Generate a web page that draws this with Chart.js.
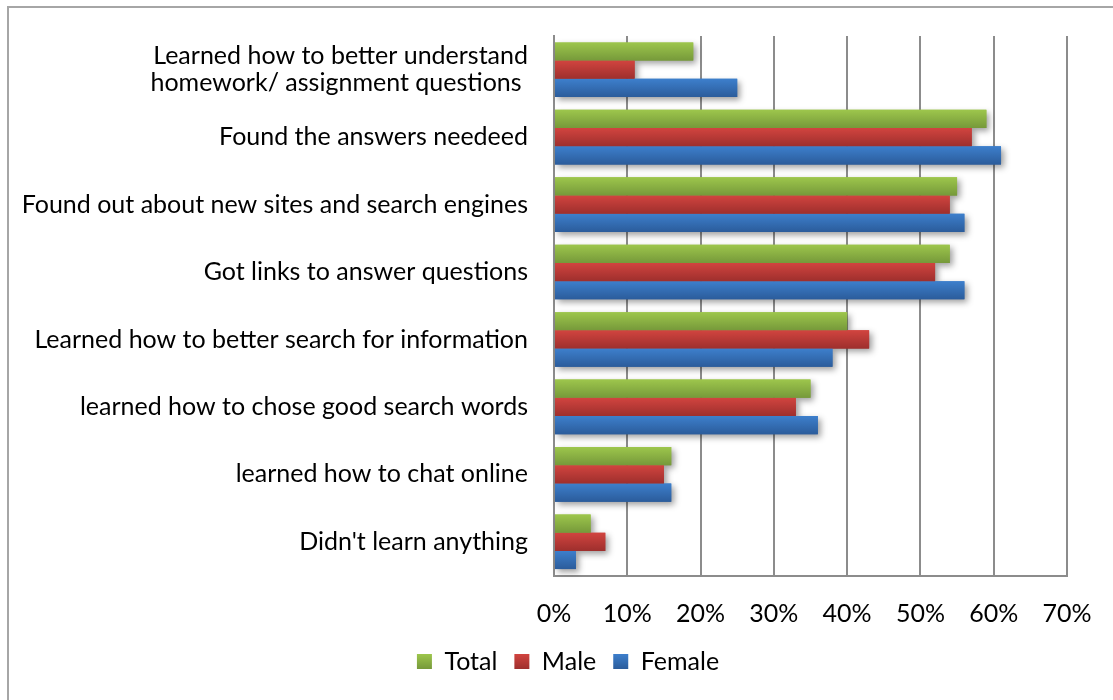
<!DOCTYPE html>
<html><head><meta charset="utf-8">
<script src="https://cdn.jsdelivr.net/npm/chart.js@4.4.0/dist/chart.umd.min.js"></script>
<style>
html,body{margin:0;padding:0;background:#fff;overflow:hidden;width:1113px;height:700px;}
#box{position:absolute;left:7px;top:6px;width:1140px;height:720px;border:2px solid #a6a6a6;}
#c{position:absolute;left:9px;top:8px;}
</style></head><body>
<div id="box"></div>
<canvas id="c" width="1118" height="692"></canvas>
<script>
const categories = [
  ['Learned how to better understand', 'homework/ assignment questions '],
  'Found the answers needeed',
  'Found out about new sites and search engines',
  'Got links to answer questions',
  'Learned how to better search for information',
  'learned how to chose good search words',
  'learned how to chat online',
  "Didn't learn anything"
];
const seriesNames = ['Total', 'Male', 'Female'];
const totalValues  = [19, 59, 55, 54, 40, 35, 16, 5];
const maleValues   = [11, 57, 54, 52, 43, 33, 15, 7];
const femaleValues = [25, 61, 56, 56, 38, 36, 16, 3];
const xTickValues = [0, 10, 20, 30, 40, 50, 60, 70];

const topColors = ['#9dc64c', '#d1443f', '#3d7fcc'];
const bottomColors = ['#76993a', '#9e2f2d', '#2b5c9b'];
const CAT_PCT = 0.81;
const FONT = 'Lato';
const FS = 25;
const LEG_PAD = 17;

function barGradient(ctx) {
  const d = ctx.datasetIndex;
  if (ctx.type !== 'data') return topColors[d];
  const ch = ctx.chart, ys = ch.scales.y;
  if (!ys) return topColors[d];
  const c = ys.getPixelForValue(ctx.dataIndex);
  const band = ys.getPixelForValue(1) - ys.getPixelForValue(0);
  if (!isFinite(c) || !isFinite(band)) return topColors[d];
  const group = band * CAT_PCT, bh = group / 3;
  const t = c - group / 2 + d * bh;
  const g = ch.ctx.createLinearGradient(0, t, 0, t + bh);
  g.addColorStop(0, topColors[d]);
  g.addColorStop(1, bottomColors[d]);
  return g;
}

const shadowPlugin = {
  id: 'shadowPlugin',
  beforeDatasetsDraw(chart) {
    const c = chart.ctx;
    c.save();
    c.shadowColor = 'rgba(0,0,0,0.38)';
    c.shadowBlur = 6;
    c.shadowOffsetX = 3;
    c.shadowOffsetY = 3;
    chart.getSortedVisibleDatasetMetas().forEach(m => m.data.forEach(el => el.draw(c)));
    c.restore();
  }
};

const datasets = [totalValues, maleValues, femaleValues].map((vals, i) => ({
  label: seriesNames[i],
  data: vals,
  yAxisID: 'y',
  backgroundColor: barGradient,
  borderWidth: 0,
  barPercentage: 1.0,
  categoryPercentage: CAT_PCT
}));

const GRID = '#8c8c8c';

new Chart(document.getElementById('c'), {
  type: 'bar',
  data: { labels: categories, datasets },
  plugins: [shadowPlugin],
  options: {
    indexAxis: 'y',
    responsive: false,
    animation: false,
    devicePixelRatio: 1,
    layout: { padding: { top: 28, right: 0, left: 0, bottom: 16 } },
    font: { family: FONT, size: FS },
    scales: {
      x: {
        min: 0, max: 70,
        afterBuildTicks(s) { s.ticks = xTickValues.map(v => ({ value: v })); },
        afterFit(s) { s.height = 56.5; s.paddingLeft = 0; s.paddingRight = 0; },
        grid: { color: GRID, lineWidth: 2, drawTicks: false },
        border: { color: GRID, width: 2 },
        ticks: { color: '#000', font: { family: FONT, size: FS }, padding: 23, callback: v => v + '%' }
      },
      y: {
        afterFit(s) { s.width = 545; s.paddingTop = 0; s.paddingBottom = 0; },
        grid: { display: false, drawTicks: false },
        border: { color: GRID, width: 2 },
        ticks: { color: '#000', font: { family: FONT, size: FS, lineHeight: 27 / FS }, padding: 26 }
      },
      yR: {
        type: 'category', position: 'right', display: true,
        grid: { display: false, drawTicks: false }, border: { display: false },
        ticks: { display: false },
        afterFit(s) { s.width = 60; s.paddingTop = 0; s.paddingBottom = 0; }
      }
    },
    plugins: {
      tooltip: { enabled: false },
      legend: {
        position: 'bottom',
        labels: {
          color: '#000',
          font: { family: FONT, size: FS },
          boxWidth: 15, boxHeight: 15, padding: LEG_PAD,
          generateLabels(chart) {
            const lg = chart.legend;
            const bt = (lg && isFinite(lg.top)) ? lg.top + LEG_PAD + Math.max((FS - 15) / 2, 0) : 0;
            return chart.data.datasets.map((ds, i) => {
              const g = chart.ctx.createLinearGradient(0, bt, 0, bt + 15);
              g.addColorStop(0, topColors[i]);
              g.addColorStop(1, bottomColors[i]);
              return { text: ds.label, fillStyle: g, strokeStyle: 'rgba(0,0,0,0)', lineWidth: 0, hidden: false, datasetIndex: i, fontColor: '#000' };
            });
          }
        }
      }
    }
  }
});
</script>
</body></html>
